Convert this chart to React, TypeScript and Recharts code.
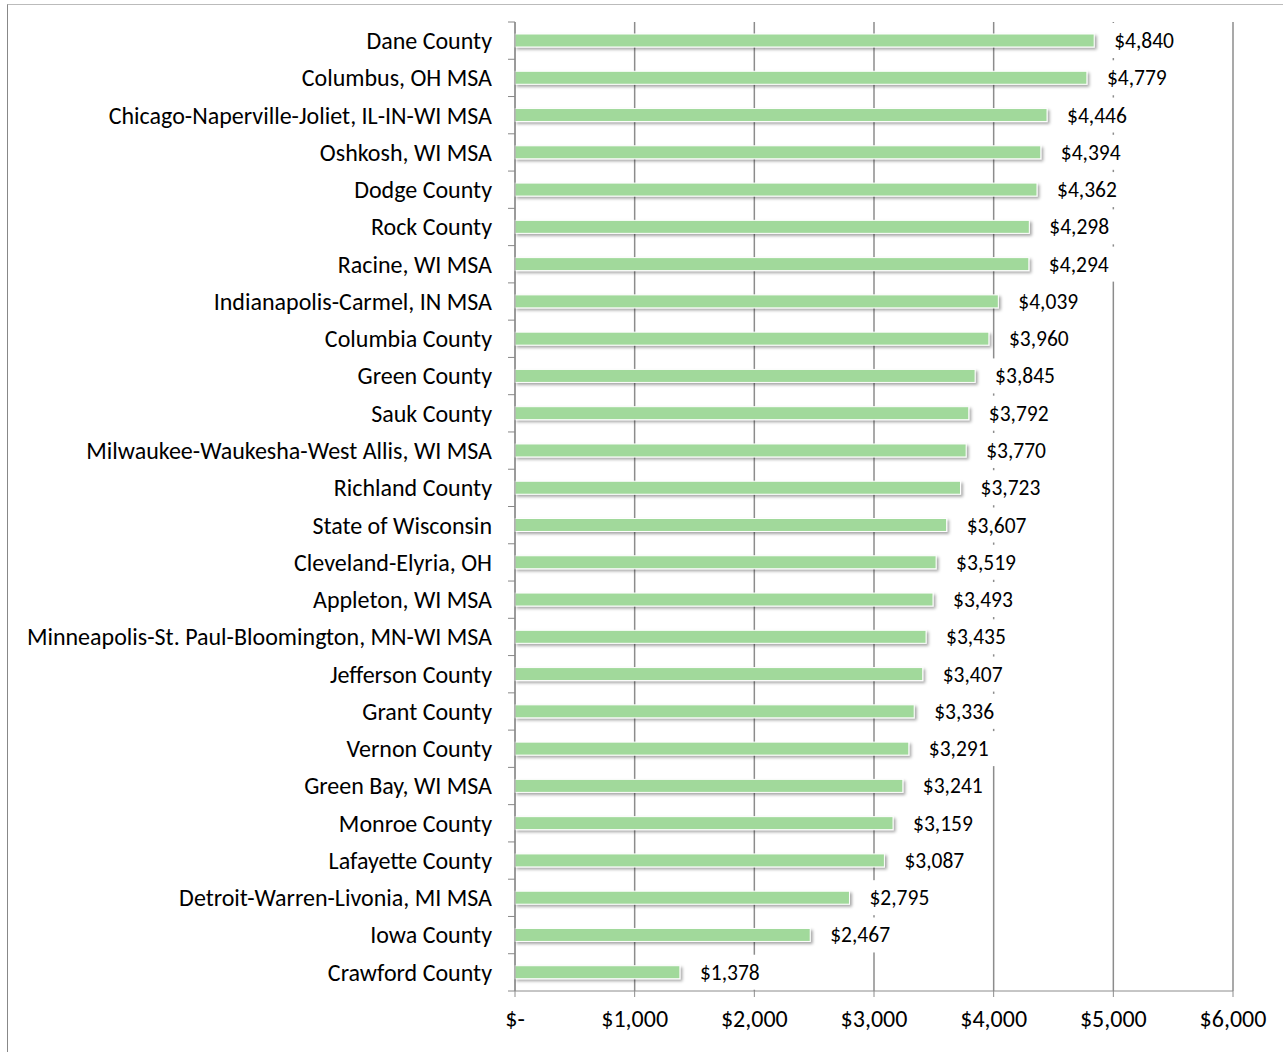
import { BarChart, Bar, XAxis, YAxis, CartesianGrid, LabelList } from 'recharts'

const categories = [
  'Dane County',
  'Columbus, OH MSA',
  'Chicago-Naperville-Joliet, IL-IN-WI MSA',
  'Oshkosh, WI MSA',
  'Dodge County',
  'Rock County',
  'Racine, WI MSA',
  'Indianapolis-Carmel, IN MSA',
  'Columbia County',
  'Green County',
  'Sauk County',
  'Milwaukee-Waukesha-West Allis, WI MSA',
  'Richland County',
  'State of Wisconsin',
  'Cleveland-Elyria, OH',
  'Appleton, WI MSA',
  'Minneapolis-St. Paul-Bloomington, MN-WI MSA',
  'Jefferson County',
  'Grant County',
  'Vernon County',
  'Green Bay, WI MSA',
  'Monroe County',
  'Lafayette County',
  'Detroit-Warren-Livonia, MI MSA',
  'Iowa County',
  'Crawford County',
]

const values = [
  4840, 4779, 4446, 4394, 4362, 4298, 4294, 4039, 3960, 3845, 3792, 3770, 3723,
  3607, 3519, 3493, 3435, 3407, 3336, 3291, 3241, 3159, 3087, 2795, 2467, 1378,
]

const xTicks = [0, 1000, 2000, 3000, 4000, 5000, 6000]

const data = categories.map((name, i) => ({ name, value: values[i] }))

const FONT = "Carlito, Calibri, 'Open Sans', sans-serif"
const CHART_W = 1275
const CHART_H = 1047
const MARGIN = { top: 17, right: 50, bottom: 11, left: 0 }
const X_AXIS_H = 50
const PLOT_H = CHART_H - MARGIN.top - MARGIN.bottom - X_AXIS_H
const BAND = PLOT_H / categories.length

const money = (v: number) => (v === 0 ? '$-' : '$' + v.toLocaleString('en-US'))

function CategoryTick(props: any) {
  const { x, y, payload, index } = props
  const half = BAND / 2
  return (
    <g>
      <line x1={x - 7} x2={x} y1={y - half} y2={y - half} stroke="#888" />
      {index === categories.length - 1 && (
        <line x1={x - 7} x2={x} y1={y + half} y2={y + half} stroke="#888" />
      )}
      <text
        x={x - 23}
        y={y}
        dy="0.35em"
        textAnchor="end"
        fontSize={24}
        fontFamily={FONT}
        fill="#000"
      >
        {payload.value}
      </text>
    </g>
  )
}

function ShadowBar(props: any) {
  const { x, y, width, height, fill } = props
  return (
    <rect
      x={x}
      y={y}
      width={width}
      height={height}
      fill={fill}
      stroke="#fff"
      strokeWidth={1}
      filter="url(#barShadow)"
    />
  )
}

function ValueLabel(props: any) {
  const { x, y, width, height, value } = props
  const tx = x + width + 20
  const cy = y + height / 2
  const text = money(value)
  const w = text.length * 11 + 8
  return (
    <g>
      <rect x={tx - 5} y={cy - 17.5} width={w} height={35} fill="#fff" />
      <text
        x={tx}
        y={cy}
        dy="0.35em"
        fontSize={21.5}
        fontFamily={FONT}
        fill="#000"
      >
        {text}
      </text>
    </g>
  )
}

export default function App() {
  return (
    <div
      style={{
        position: 'absolute',
        left: 7,
        top: 4,
        width: 1290,
        height: 1060,
        borderTop: '1px solid #bbb',
        borderLeft: '1px solid #888',
        background: '#fff',
      }}
    >
      <svg width={0} height={0} style={{ position: 'absolute' }}>
        <defs>
          <filter id="barShadow" x="-5%" y="-50%" width="110%" height="250%">
            <feDropShadow dx={2} dy={2} stdDeviation={1.5} floodColor="#000" floodOpacity={0.35} />
          </filter>
        </defs>
      </svg>
      <BarChart
        width={CHART_W}
        height={CHART_H}
        data={data}
        layout="vertical"
        margin={MARGIN}
      >
        <CartesianGrid horizontal={false} vertical stroke="#8c8c8c" strokeWidth={1.5} />
        <XAxis
          type="number"
          domain={[0, 6000]}
          ticks={xTicks}
          tickFormatter={money}
          height={X_AXIS_H}
          stroke="#8c8c8c"
          tickSize={6}
          tickMargin={13}
          tick={{ fontSize: 24, fontFamily: FONT, fill: '#000' }}
        />
        <YAxis
          type="category"
          dataKey="name"
          width={507}
          stroke="#8c8c8c"
          tickSize={0}
          tickMargin={0}
          interval={0}
          tick={<CategoryTick />}
        />
        <Bar
          dataKey="value"
          fill="#a1d99b"
          barSize={13}
          shape={<ShadowBar />}
          isAnimationActive={false}
        >
          <LabelList dataKey="value" content={<ValueLabel />} />
        </Bar>
      </BarChart>
    </div>
  )
}
